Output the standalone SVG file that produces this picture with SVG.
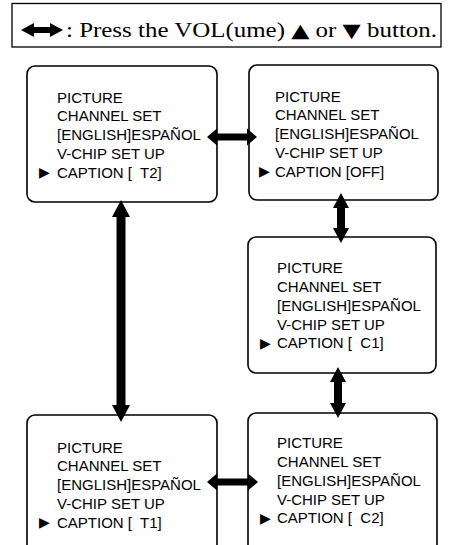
<svg xmlns="http://www.w3.org/2000/svg" width="450" height="545" viewBox="0 0 450 545">
<style>
.box{fill:#fff;stroke:#000;stroke-width:1.6}
.t{font-family:"Liberation Sans",Arial,sans-serif;font-size:15px;fill:#000}
.tri{font-family:"DejaVu Sans",sans-serif;font-size:14px;fill:#000}
.arr{fill:#000;stroke:none}
.hdr{font-family:"Liberation Serif","Times New Roman",serif;font-size:20px;fill:#000}
.sym{font-family:"DejaVu Sans",sans-serif;font-size:19px}
</style>
<rect width="450" height="545" fill="#fff"/>
<g id="legend">
<rect x="12" y="3.5" width="429" height="43.5" fill="#fff" stroke="#000" stroke-width="1.3"/>
<path class="arr" d="M21,30 L34,23 L34,27 L50,27 L50,23 L63,30 L50,37 L50,33 L34,33 L34,37 Z"/>
<text class="hdr" x="66" y="37" textLength="371" lengthAdjust="spacingAndGlyphs" xml:space="preserve">: Press the VOL(ume) <tspan class="sym">▲</tspan> or <tspan class="sym">▼</tspan> button.</text>
</g>
<g id="node-t2">
<rect class="box" x="27" y="66" width="190" height="136" rx="8"/>
<text class="t" x="57" y="102.7">PICTURE</text>
<text class="t" x="57" y="121.4">CHANNEL SET</text>
<text class="t" x="57" y="140.2">[ENGLISH]ESPAÑOL</text>
<text class="t" x="57" y="158.9">V-CHIP SET UP</text>
<text class="tri" x="39" y="177.2">▶</text>
<text class="t" x="57" y="177.7" xml:space="preserve">CAPTION [  T2]</text>
</g>
<g id="node-off">
<rect class="box" x="249" y="65" width="189" height="135" rx="8"/>
<text class="t" x="275" y="101.7">PICTURE</text>
<text class="t" x="275" y="120.4">CHANNEL SET</text>
<text class="t" x="275" y="139.2">[ENGLISH]ESPAÑOL</text>
<text class="t" x="275" y="157.9">V-CHIP SET UP</text>
<text class="tri" x="259" y="176.2">▶</text>
<text class="t" x="275" y="176.7">CAPTION [OFF]</text>
</g>
<g id="node-c1">
<rect class="box" x="248" y="237" width="188" height="136" rx="8"/>
<text class="t" x="277" y="273.3">PICTURE</text>
<text class="t" x="277" y="292">CHANNEL SET</text>
<text class="t" x="277" y="310.8">[ENGLISH]ESPAÑOL</text>
<text class="t" x="277" y="329.5">V-CHIP SET UP</text>
<text class="tri" x="260" y="347.8">▶</text>
<text class="t" x="277" y="348.3" xml:space="preserve">CAPTION [  C1]</text>
</g>
<g id="node-t1">
<rect class="box" x="27" y="415" width="190" height="150" rx="8"/>
<text class="t" x="57" y="452.7">PICTURE</text>
<text class="t" x="57" y="471.4">CHANNEL SET</text>
<text class="t" x="57" y="490.2">[ENGLISH]ESPAÑOL</text>
<text class="t" x="57" y="508.9">V-CHIP SET UP</text>
<text class="tri" x="39" y="527.2">▶</text>
<text class="t" x="57" y="527.7" xml:space="preserve">CAPTION [  T1]</text>
</g>
<g id="node-c2">
<rect class="box" x="248" y="413" width="189" height="150" rx="8"/>
<text class="t" x="277" y="448.3">PICTURE</text>
<text class="t" x="277" y="467">CHANNEL SET</text>
<text class="t" x="277" y="485.8">[ENGLISH]ESPAÑOL</text>
<text class="t" x="277" y="504.5">V-CHIP SET UP</text>
<text class="tri" x="260" y="522.8">▶</text>
<text class="t" x="277" y="523.3" xml:space="preserve">CAPTION [  C2]</text>
</g>
<g id="connectors">
<path class="arr" d="M207,137 L217,128.5 L217,133.5 L247,133.5 L247,128.5 L257,137 L247,145.5 L247,140.5 L217,140.5 L217,145.5 Z"/>
<path class="arr" d="M207,482 L217,473.5 L217,478.5 L248,478.5 L248,473.5 L258,482 L248,490.5 L248,485.5 L217,485.5 L217,490.5 Z"/>
<path class="arr" d="M121,200 L130,217 L125.5,217 L125.5,405 L130,405 L121,422 L112,405 L116.5,405 L116.5,217 L112,217 Z"/>
<path class="arr" d="M341,193 L349,208 L345,208 L345,228 L349,228 L341,243 L333,228 L337,228 L337,208 L333,208 Z"/>
<path class="arr" d="M338,367 L346,382 L342,382 L342,403 L346,403 L338,418 L330,403 L334,403 L334,382 L330,382 Z"/>
</g>
</svg>
